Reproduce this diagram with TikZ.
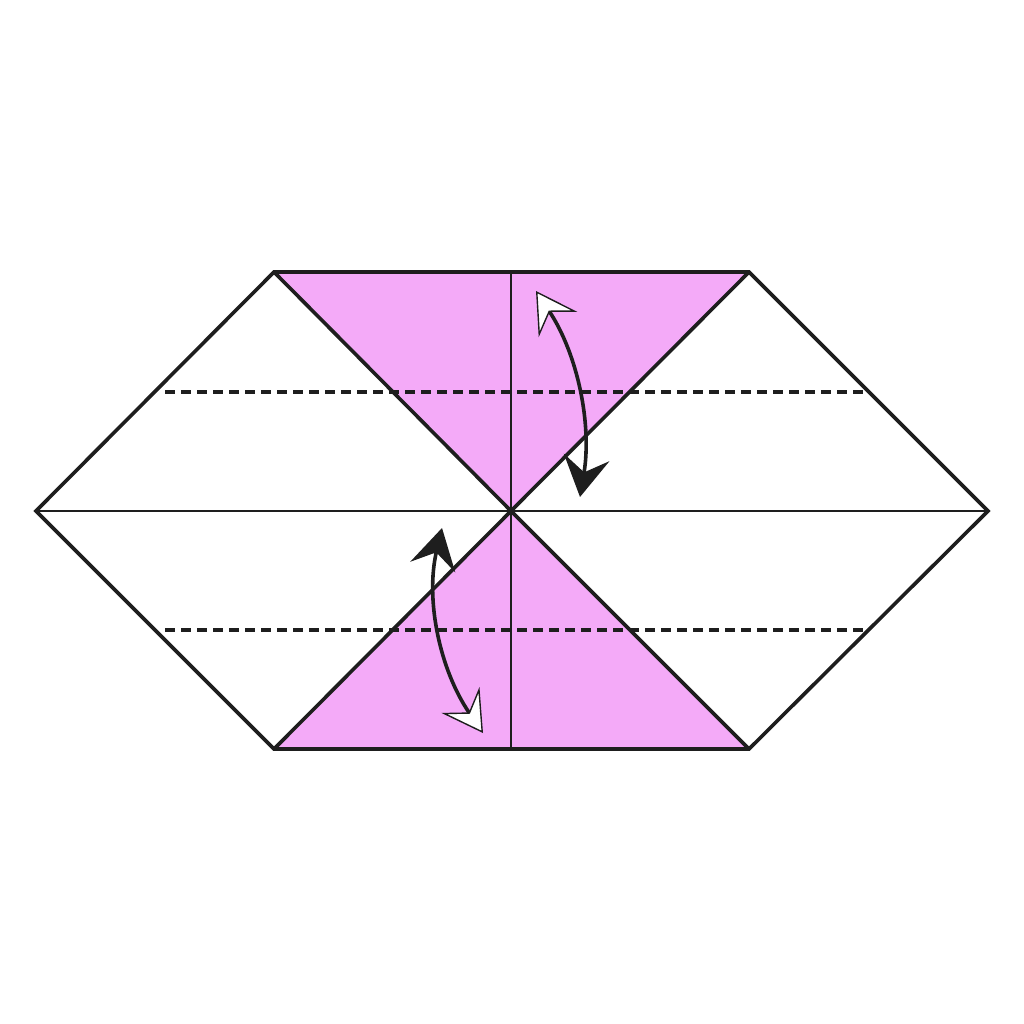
\documentclass[tikz,border=0pt]{standalone}
\usetikzlibrary{arrows.meta}
\definecolor{pinkfill}{HTML}{F4AAF8}
\definecolor{ink}{HTML}{1E1E1E}
\tikzset{
  outline/.style={draw=ink, line width=3.6pt, line join=miter},
  thin/.style={draw=ink, line width=1.8pt},
  valley/.style={draw=ink, line width=3.2pt, dash pattern=on 10pt off 6pt},
  movearrow/.style={draw=ink, line width=3.6pt,
    {Stealth[length=40pt,width=46pt,inset=15pt,open,fill=white,line width=1.4pt]}-{Stealth[length=40pt,width=46pt,inset=15pt,fill=ink]}},
}
\begin{document}
\begin{tikzpicture}[x=1pt,y=-1pt]
\useasboundingbox (0,0) rectangle (1024,1024);
\coordinate (L) at (36,511);
\coordinate (TL) at (274,272);
\coordinate (TR) at (749,272);
\coordinate (R) at (988,511);
\coordinate (BR) at (749,749);
\coordinate (BL) at (274,749);
\coordinate (C) at (511,511);
\coordinate (TM) at (511,272);
\coordinate (BM) at (511,749);
% pink flaps
\fill[pinkfill] (TL) -- (TR) -- (C) -- cycle;
\fill[pinkfill] (C) -- (BL) -- (BR) -- cycle;
% thin creases
\draw[thin] (L) -- (R);
\draw[thin] (TM) -- (BM);
% dashed valley folds
\draw[valley] (165,392) -- (866,392);
\draw[valley] (165,630) -- (866,630);
% outline
\draw[outline] (L) -- (TL) -- (TR) -- (R) -- (BR) -- (BL) -- cycle;
\draw[outline] (TL) -- (C) -- (TR);
\draw[outline] (BL) -- (C) -- (BR);
% arrows
\coordinate (a1s) at (536,291);
\coordinate (a1e) at (580,497);
\coordinate (a2s) at (483,733);
\coordinate (a2e) at (442,528);
\draw[movearrow] (a1s) .. controls (578,355) and (592,425) .. (a1e);
\draw[movearrow] (a2s) .. controls (440,670) and (425,600) .. (a2e);
\end{tikzpicture}
\end{document}
